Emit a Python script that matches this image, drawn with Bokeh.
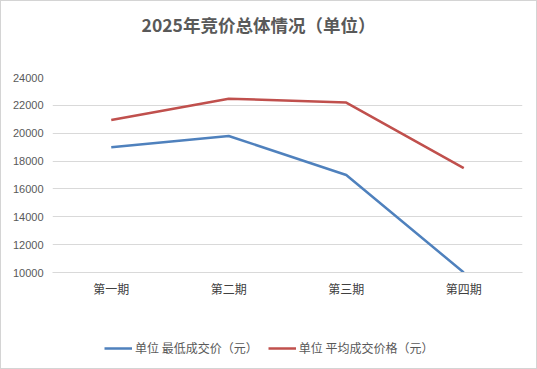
from bokeh.plotting import figure
from bokeh.layouts import column
from bokeh.models import Range1d, FixedTicker, Legend, LegendItem, ColumnDataSource, Label
from bokeh.embed import file_html
from bokeh.resources import INLINE

periods = ["第一期", "第二期", "第三期", "第四期"]
min_price = [19000, 19800, 17000, 10000]
avg_price = [20950, 22480, 22200, 17500]
y_ticks = [10000, 12000, 14000, 16000, 18000, 20000, 22000, 24000]
title_text = "2025年竞价总体情况（单位）"
name_min = "单位 最低成交价（元）"
name_avg = "单位 平均成交价格（元）"

BLUE = "#4f81bd"
RED = "#c0504d"
W = 537
LEFT = 52
RIGHT = 15

src = ColumnDataSource(dict(x=periods, lo=min_price, av=avg_price))


def blank_fig(h):
    f = figure(width=W, height=h, x_range=Range1d(0, 1), y_range=Range1d(0, 1),
               output_backend="svg", toolbar_location=None,
               x_axis_type=None, y_axis_type=None,
               min_border_left=LEFT, min_border_right=RIGHT, min_border_top=0, min_border_bottom=0)
    f.outline_line_color = None
    f.grid.visible = False
    f.background_fill_alpha = 0
    f.border_fill_alpha = 0
    return f


# title strip
top = blank_fig(67)
top.add_layout(Label(x=206, y=43, x_units="screen", y_units="screen", text=title_text,
                     text_align="center", text_baseline="middle",
                     text_font="Noto Sans CJK SC", text_font_size="17.5px",
                     text_font_style="bold", text_color="#595959"))

# main chart
p = figure(width=W, height=243, x_range=periods, y_range=Range1d(10000, 24000),
           output_backend="svg", toolbar_location=None,
           min_border_left=LEFT, min_border_right=RIGHT, min_border_top=10, min_border_bottom=38)
p.outline_line_color = None
p.background_fill_alpha = 0
p.border_fill_alpha = 0

p.line("x", "lo", source=src, line_color=BLUE, line_width=2.5)
p.line("x", "av", source=src, line_color=RED, line_width=2.5)

p.yaxis.ticker = FixedTicker(ticks=y_ticks)
p.yaxis.axis_line_color = None
p.yaxis.major_tick_line_color = None
p.yaxis.minor_tick_line_color = None
p.yaxis.major_tick_out = 0
p.yaxis.major_tick_in = 0
p.yaxis.minor_tick_out = 0
p.yaxis.major_label_text_font = "Liberation Sans"
p.yaxis.major_label_text_font_size = "11px"
p.yaxis.major_label_text_color = "#595959"
p.yaxis.major_label_standoff = 9

p.xaxis.axis_line_color = "#d9d9d9"
p.xaxis.major_tick_line_color = None
p.xaxis.minor_tick_line_color = None
p.xaxis.major_tick_out = 0
p.xaxis.major_tick_in = 0
p.xaxis.minor_tick_out = 0
p.xaxis.major_label_text_font = "Noto Sans CJK SC"
p.xaxis.major_label_text_font_size = "12px"
p.xaxis.major_label_text_color = "#404040"
p.xaxis.major_label_standoff = 7

p.xgrid.grid_line_color = None
p.ygrid.ticker = FixedTicker(ticks=y_ticks)
p.ygrid.grid_line_color = "#d9d9d9"
p.ygrid.grid_line_width = 1

# legend strip (its lines lie outside the strip's view; only the legend keys show)
leg = blank_fig(59)
l1 = leg.line(x="lo", y="lo", source=src, line_color=BLUE, line_width=2.5)
l2 = leg.line(x="av", y="av", source=src, line_color=RED, line_width=2.5)
legend = Legend(items=[LegendItem(label=name_min, renderers=[l1]),
                       LegendItem(label=name_avg, renderers=[l2])],
                orientation="horizontal", location=(52, 13),
                label_text_font="Noto Sans CJK SC", label_text_font_size="12px",
                label_text_color="#595959", glyph_width=28, glyph_height=12,
                spacing=10, label_standoff=3, padding=4, margin=0,
                border_line_color=None, background_fill_alpha=0)
leg.add_layout(legend, "center")

layout = column(top, p, leg, spacing=0,
                styles={"position": "absolute", "left": "0px", "top": "0px",
                        "background-color": "white",
                        "outline": "1px solid #d4d4d4", "outline-offset": "-1px"})

open("out.html", "w").write(file_html(layout, INLINE))
